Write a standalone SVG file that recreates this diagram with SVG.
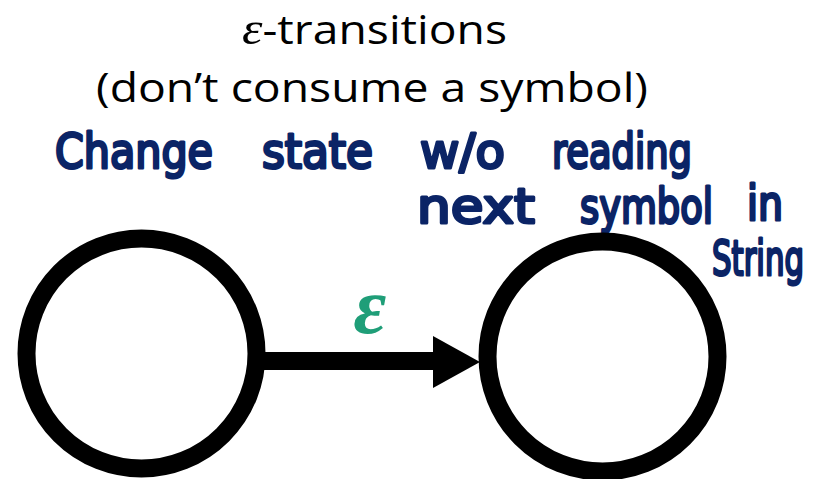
<svg xmlns="http://www.w3.org/2000/svg" width="815" height="479" viewBox="0 0 815 479">
  <defs>
    <style>
      .title { font-family: "Open Sans", "Liberation Sans", sans-serif; font-size: 41px; fill: #000; }
      .greek { font-family: "Liberation Serif", "DejaVu Serif", serif; font-style: italic; font-size: 46px; }
      .hand { font-family: "DejaVu Sans", "Liberation Sans", sans-serif; font-size: 48px;
              fill: #0b2466; stroke: #0b2466; stroke-width: 3; stroke-linejoin: round; stroke-linecap: round; }
      .state { fill: #fff; stroke: #000; stroke-width: 18; }
      .edge { stroke: #000; stroke-width: 18; fill: none; }
      .label { font-family: "Liberation Serif", "DejaVu Serif", serif; font-style: italic; font-weight: bold; font-size: 80px; fill: #1f9e78; }
    </style>
  </defs>

  <!-- heading -->
  <g id="heading">
    <text class="title" x="242" y="44" textLength="265" lengthAdjust="spacingAndGlyphs"><tspan class="greek">ε</tspan>-transitions</text>
    <text class="title" x="96" y="102" textLength="552" lengthAdjust="spacingAndGlyphs">(don’t consume a symbol)</text>
  </g>

  <!-- handwritten note -->
  <g id="note">
    <text class="hand" x="55" y="168" textLength="158" lengthAdjust="spacingAndGlyphs">Change</text>
    <text class="hand" x="262" y="168" textLength="111" lengthAdjust="spacingAndGlyphs">state</text>
    <text class="hand" x="420" y="168" textLength="85" lengthAdjust="spacingAndGlyphs">w/o</text>
    <text class="hand" x="552" y="168" textLength="140" lengthAdjust="spacingAndGlyphs">reading</text>
    <text class="hand" x="417" y="223" textLength="118" lengthAdjust="spacingAndGlyphs">next</text>
    <text class="hand" x="580" y="223" textLength="133" lengthAdjust="spacingAndGlyphs">symbol</text>
    <text class="hand" x="747" y="220" textLength="36" lengthAdjust="spacingAndGlyphs">in</text>
    <text class="hand" x="712" y="275" font-size="44" textLength="92" lengthAdjust="spacingAndGlyphs">String</text>
  </g>

  <!-- transition -->
  <g id="connectors">
    <line class="edge" x1="262" y1="361" x2="440" y2="361"/>
    <polygon points="433,336 480,362 433,388" fill="#000"/>
    <text class="label" x="370" y="333" text-anchor="middle">ε</text>
  </g>

  <!-- states -->
  <g id="state-q0">
    <circle class="state" cx="141.5" cy="353.5" r="115"/>
  </g>
  <g id="state-q1">
    <circle class="state" cx="602.5" cy="356.5" r="115"/>
  </g>
</svg>
